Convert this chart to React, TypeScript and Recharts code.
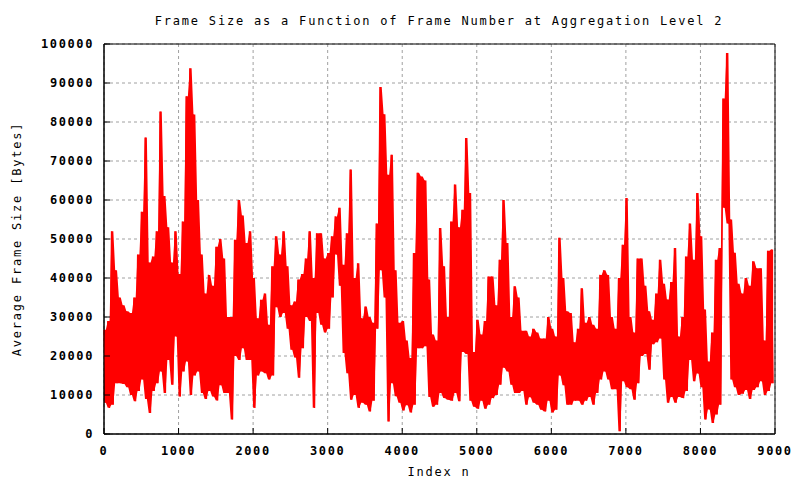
import React from 'react';
import { ComposedChart, Line, Area, XAxis, YAxis, CartesianGrid, ReferenceArea } from 'recharts';

// frame size envelope, one bin = 50 frames, values in thousands of bytes
const BIN = 50;
const binHigh = [
  26.7, 29, 52, 42, 35, 33, 31.5, 31, 35, 46, 57, 76, 44, 45.5, 52, 82.7, 61, 53, 44, 52,
  41, 54.5, 86.6, 93.8, 81.9, 60, 46, 36, 40.8, 38, 48, 50, 45, 30, 30, 49.8, 60, 56, 49, 52,
  40, 29.7, 34.4, 36, 28, 43, 50.7, 46, 52, 43, 33, 34, 39.6, 41, 45, 52, 40, 51.5, 51.5, 45,
  46.4, 50.7, 55.8, 58, 43.4, 51.5, 67.8, 40, 43.8, 29.7, 32.7, 30, 28.5, 54, 89, 82, 66.5, 71.6, 42, 28.5,
  29, 24, 19.5, 46.4, 67, 66, 65, 39.6, 25.5, 24, 52.8, 43, 30, 54.5, 64, 53, 57.5, 75.9, 61.8, 21,
  29.3, 25.5, 29, 40.4, 40.4, 33, 44.7, 60, 49, 30, 37.9, 35, 26.5, 26.5, 25, 27, 26, 24.5, 24.5, 30,
  27, 25, 50.3, 40, 31.5, 31, 23.5, 27, 37.4, 28.5, 30, 28, 27, 40.8, 42, 40.8, 30, 27, 40, 48.5,
  60.5, 30, 26, 45, 45, 38, 31.5, 29.3, 36, 44.7, 38.5, 34.5, 39, 47.7, 25, 30, 45.5, 54, 44.7, 61.8,
  50.7, 31.9, 18.6, 26, 44.7, 47.7, 86, 97.7, 55, 46.5, 38.5, 36, 40, 38, 44.3, 42.5, 42.5, 24, 47, 47.3,
];
const binLow = [
  8, 6.7, 7.5, 13, 13, 12.8, 12, 10, 8.4, 11, 14, 9, 5.4, 11, 13, 16, 10.5, 19, 12.6, 25,
  9.6, 16, 18.6, 10, 15, 16, 10.5, 9, 11, 9.6, 8.6, 12.5, 10.5, 10.5, 3.7, 20, 19, 22, 19, 19,
  6.7, 15, 16, 15.6, 14, 15, 32.5, 30, 31, 27, 21.6, 19.6, 14.4, 22, 30, 29, 6.7, 31, 28, 26,
  27, 35, 46, 38, 20.8, 15.6, 8.8, 10, 6.7, 8, 7.5, 5.8, 8.5, 27, 42, 35, 3.2, 13, 9.7, 8,
  6, 7.4, 5.5, 7.5, 22, 22, 22.5, 9.5, 7, 7.5, 10.5, 9.2, 8.8, 8.5, 10.5, 8.4, 21, 20.5, 8.5, 7,
  6.5, 8.5, 6.5, 7.5, 9.2, 10, 12.6, 17, 16, 12.6, 10.5, 10.5, 11, 7.5, 9.4, 8, 7.5, 6.2, 5.8, 8.5,
  5.5, 6.2, 15, 12.5, 7.5, 7.5, 8.5, 8.5, 7.5, 8.5, 9.5, 7.5, 10.5, 14, 16, 14, 11.5, 11.5, 0.7, 13.5,
  12, 11.5, 8.8, 13, 20, 20.5, 16.5, 23, 23.5, 24.5, 14, 8, 9.5, 8, 9.5, 9.2, 11, 19, 13.5, 15.5,
  12, 3.7, 6.3, 2.8, 5, 7.5, 58, 54, 14, 12, 10, 10.3, 11.3, 9, 11.3, 12, 13.5, 10, 11, 13,
];
const xTicks = [0, 1000, 2000, 3000, 4000, 5000, 6000, 7000, 8000, 9000];
const yTicks = [0, 10000, 20000, 30000, 40000, 50000, 60000, 70000, 80000, 90000, 100000];

// zigzag between each bin's peak and trough, plus the bin's band for the solid body
const series = binHigh.flatMap((hi, i) => {
  const band = [binLow[i] * 1000, hi * 1000];
  return [
    { n: i * BIN, bytes: hi * 1000, band },
    { n: i * BIN + BIN / 2, bytes: binLow[i] * 1000, band },
  ];
});

const FONT = '"DejaVu Sans Mono", "Liberation Mono", monospace';
const tickStyle = { fontSize: 12, fontFamily: FONT, fontWeight: 'bold', fill: '#000', letterSpacing: 1.6 };
const textStyle: React.CSSProperties = {
  position: 'absolute',
  fontFamily: FONT,
  fontSize: 12,
  letterSpacing: 1.8,
  color: '#000',
  whiteSpace: 'nowrap',
  lineHeight: '14px',
};

export default function App() {
  return (
    <div style={{ position: 'absolute', left: 0, top: 0, width: 800, height: 480, background: '#fff' }}>
      <ComposedChart width={800} height={480} data={series} margin={{ top: 44, right: 25, bottom: 16, left: 0 }}>
        <CartesianGrid stroke="#a0a0a0" strokeDasharray="3 3" />
        <XAxis
          dataKey="n"
          type="number"
          domain={[0, 9000]}
          ticks={xTicks}
          interval={0}
          height={30}
          tickSize={-6}
          tickMargin={18}
          tick={tickStyle}
          tickLine={{ stroke: '#000' }}
          axisLine={{ stroke: '#000' }}
        />
        <XAxis
          xAxisId="top"
          orientation="top"
          type="number"
          domain={[0, 9000]}
          ticks={xTicks}
          interval={0}
          height={0}
          tickSize={-6}
          tick={false}
          tickLine={{ stroke: '#000' }}
          axisLine={false}
        />
        <YAxis
          type="number"
          domain={[0, 100000]}
          ticks={yTicks}
          interval={0}
          width={104}
          tickSize={-6}
          tickMargin={16}
          tick={tickStyle}
          tickLine={{ stroke: '#000' }}
          axisLine={{ stroke: '#000' }}
        />
        <YAxis
          yAxisId="right"
          orientation="right"
          type="number"
          domain={[0, 100000]}
          ticks={yTicks}
          interval={0}
          width={0}
          tickSize={-6}
          tick={false}
          tickLine={{ stroke: '#000' }}
          axisLine={false}
        />
        <Area
          type="linear"
          dataKey="band"
          stroke="none"
          fill="#ff0000"
          fillOpacity={1}
          dot={false}
          activeDot={false}
          isAnimationActive={false}
        />
        <Line
          type="linear"
          dataKey="bytes"
          stroke="#ff0000"
          strokeWidth={1.2}
          dot={false}
          isAnimationActive={false}
        />
        <ReferenceArea x1={0} x2={9000} y1={0} y2={100000} fill="none" stroke="#000" strokeWidth={1} ifOverflow="visible" />
      </ComposedChart>
      <div style={{ ...textStyle, left: 0, width: 878, top: 14, textAlign: 'center' }}>
        Frame Size as a Function of Frame Number at Aggregation Level 2
      </div>
      <div style={{ ...textStyle, left: 0, width: 878, top: 465, textAlign: 'center' }}>Index n</div>
      <div
        style={{
          ...textStyle,
          left: 17,
          top: 239,
          transform: 'translate(-50%, -50%) rotate(-90deg)',
        }}
      >
        Average Frame Size [Bytes]
      </div>
    </div>
  );
}
